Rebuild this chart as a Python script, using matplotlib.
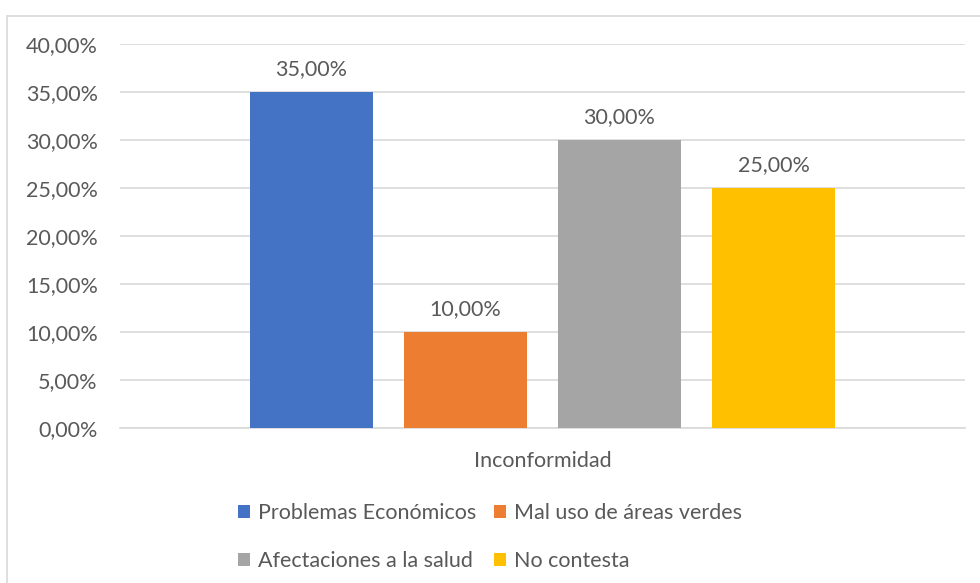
import matplotlib.pyplot as plt
import matplotlib.patches as mpatches
import numpy as np

plt.rcParams['font.family'] = ['Lato', 'DejaVu Sans']

categories = ["Problemas Económicos", "Mal uso de áreas verdes",
              "Afectaciones a la salud", "No contesta"]
values = [35.0, 10.0, 30.0, 25.0]
colors = ["#4472C4", "#ED7D31", "#A5A5A5", "#FFC000"]
yticks = [0, 5, 10, 15, 20, 25, 30, 35, 40]
group_label = "Inconformidad"

text_color = "#595959"
grid_color = "#d9d9d9"
fs = 15.5


def pct(v):
    return f"{v:.2f}".replace(".", ",") + "%"


fig = plt.figure(figsize=(9.8, 5.83), dpi=100)
ax = fig.add_axes([120 / 980, 1 - 428 / 583, 845 / 980, (428 - 44) / 583])

# outer chart border
fig.patches.append(mpatches.Rectangle((7 / 980, -0.1), 1.2, 1.1 - 16 / 583,
                                      transform=fig.transFigure, fill=False,
                                      edgecolor=grid_color, linewidth=1.2))

step = 0.1822
width = 0.1456
handles = []
for i, (cat, v, c) in enumerate(zip(categories, values, colors)):
    x = (i - 1.5) * step
    b = ax.bar(x, v, width=width, color=c, label=cat, zorder=3)
    handles.append(b)
    ax.annotate(pct(v), (x, v), xytext=(0, 9.5), textcoords="offset points",
                ha="center", va="bottom", fontsize=fs, color=text_color)

ax.set_xlim(-0.5, 0.5)
ax.set_ylim(0, 40)
ax.set_yticks(yticks)
ax.set_yticklabels([pct(t) for t in yticks])
ax.set_xticks([0])
ax.set_xticklabels([group_label])
ax.tick_params(axis="both", length=0, labelsize=fs, colors=text_color)
ax.tick_params(axis="y", pad=16)
ax.tick_params(axis="x", pad=16.5)
ax.yaxis.grid(True, color=grid_color, linewidth=1.2, zorder=0)
for s in ["top", "right", "left"]:
    ax.spines[s].set_visible(False)
ax.spines["bottom"].set_color(grid_color)
ax.spines["bottom"].set_linewidth(1.2)

# row-wise legend order
order = [0, 2, 1, 3]
leg = fig.legend(handles=[handles[k] for k in order],
                 labels=[categories[k] for k in order], ncol=2,
                 loc="center", bbox_to_anchor=(490 / 980, 1 - 537 / 583),
                 frameon=False, fontsize=fs, handlelength=0.55,
                 handleheight=0.55, handletextpad=0.35, columnspacing=0.85,
                 labelspacing=1.3)
for t in leg.get_texts():
    t.set_color(text_color)

fig.savefig("out.png", dpi=100)
